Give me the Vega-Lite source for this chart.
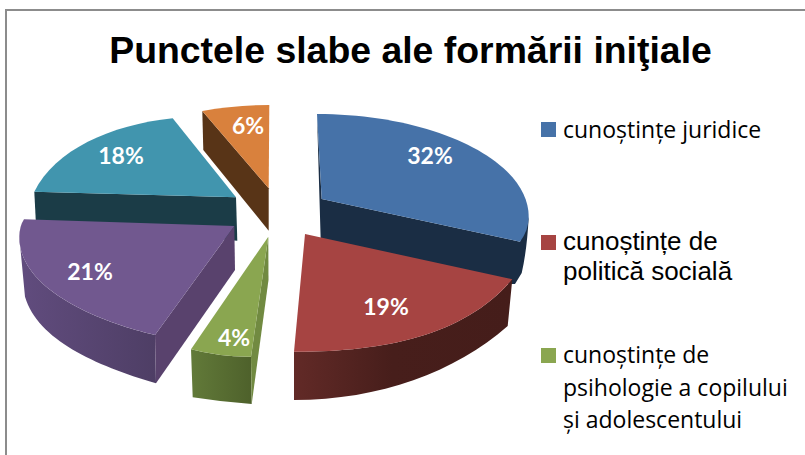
{
"$schema":"https://vega.github.io/schema/vega-lite/v6.json",
"width":805,"height":455,"padding":0,"autosize":"none",
"background":"white",
"view":{"stroke":null},
"title":{"text":"Punctele slabe ale formării iniţiale","font":"Liberation Sans","fontSize":37.4,"fontWeight":"bold","color":"#000000","anchor":"middle","frame":"group","baseline":"alphabetic","offset":0,"dy":100,"dx":8},
"datasets":{
"felii":[
{"categorie":"cunoștințe juridice","pondere":0.32},
{"categorie":"cunoștințe de politică socială","pondere":0.19},
{"categorie":"cunoștințe de psihologie a copilului și adolescentului","pondere":0.04},
{"categorie":"categoria violet (nevizibilă în legendă)","pondere":0.21},
{"categorie":"categoria turcoaz (nevizibilă în legendă)","pondere":0.18},
{"categorie":"categoria portocalie (nevizibilă în legendă)","pondere":0.06}
],
"legenda":[
{"linie":"cunoștințe juridice","rand":1},
{"linie":"cunoștințe de","rand":2},
{"linie":"politică socială","rand":3},
{"linie":"cunoștințe de","rand":4},
{"linie":"psihologie a copilului","rand":5},
{"linie":"și adolescentului","rand":6}
]
},
"data":{"name":"felii"},
"resolve":{"scale":{"x":"independent","y":"independent","shape":"independent","fill":"independent","color":"independent"}},
"layer":[
{"mark":{"type":"rule","color":"#8c8c8c","strokeWidth":2},"encoding":{"x":{"value":6},"y":{"value":9},"y2":{"value":455}}},
{"mark":{"type":"rule","color":"#8c8c8c","strokeWidth":2},"encoding":{"y":{"value":10},"x":{"value":5},"x2":{"value":805}}},
{"transform":[{"filter":"datum.pondere==0.32||datum.pondere==0.18||datum.pondere==0.06"}],
"mark":{"type":"point","filled":true,"size":4,"opacity":1,"strokeWidth":0},
"encoding":{
"x":{"field":"pondere","type":"quantitative","axis":null,"scale":{"domain":[0,1],"range":[0,0]}},
"y":{"field":"pondere","type":"quantitative","axis":null,"scale":{"domain":[0,1],"range":[0,0]}},
"shape":{"field":"categorie","type":"nominal","legend":null,"scale":{"domain":["cunoștințe juridice","categoria turcoaz (nevizibilă în legendă)","categoria portocalie (nevizibilă în legendă)"],"range":[
"M317,114L320.7,240L505,284L515,284L521.7,273Q527,250 528.7,217L520,241.7L321.7,199Z",
"M34.3,191.7L36,225L237.3,240.7L236,197.3Z",
"M202.3,111L203.3,150L268.7,230.7L268.7,188.3Z"
]}},
"fill":{"field":"categorie","type":"nominal","legend":null,"scale":{"domain":["cunoștințe juridice","categoria turcoaz (nevizibilă în legendă)","categoria portocalie (nevizibilă în legendă)"],"range":["#1a2d44","#1b3c47","#583417"]}}
}},
{"transform":[{"filter":"datum.pondere==0.19"}],
"mark":{"type":"point","filled":true,"size":4,"opacity":1,"strokeWidth":0,"shape":"M512.3,279.3L507.7,326C455,372 380,400 294,400L294,351.7C385,352 465,335 512.3,279.3Z","fill":{"gradient":"linear","x1":0,"y1":0,"x2":1,"y2":0,"stops":[{"offset":0,"color":"#622a27"},{"offset":0.45,"color":"#471e1b"},{"offset":1,"color":"#451d1a"}]}},
"encoding":{
"x":{"field":"pondere","type":"quantitative","axis":null,"scale":{"domain":[0,1],"range":[0,0]}},
"y":{"field":"pondere","type":"quantitative","axis":null,"scale":{"domain":[0,1],"range":[0,0]}}
}},
{"transform":[{"filter":"datum.pondere==0.04"}],
"mark":{"type":"point","filled":true,"size":4,"opacity":1,"strokeWidth":0,"shape":"M191,349.3L192.7,397.3Q222,402 251.7,404L251,356.7Q220,357 191,349.3Z","fill":{"gradient":"linear","x1":0,"y1":0,"x2":1,"y2":0,"stops":[{"offset":0,"color":"#627a39"},{"offset":1,"color":"#4e612b"}]}},
"encoding":{
"x":{"field":"pondere","type":"quantitative","axis":null,"scale":{"domain":[0,1],"range":[0,0]}},
"y":{"field":"pondere","type":"quantitative","axis":null,"scale":{"domain":[0,1],"range":[0,0]}}
}},
{"transform":[{"filter":"datum.pondere==0.21"}],
"mark":{"type":"point","filled":true,"size":4,"opacity":1,"strokeWidth":0,"shape":"M19.3,236.7L25,296.7C38,340 95,365 156,383.3L155,335C100,322 19,290 19.3,236.7Z","fill":{"gradient":"linear","x1":0,"y1":0,"x2":1,"y2":0,"stops":[{"offset":0,"color":"#614c7e"},{"offset":1,"color":"#4e3e65"}]}},
"encoding":{
"x":{"field":"pondere","type":"quantitative","axis":null,"scale":{"domain":[0,1],"range":[0,0]}},
"y":{"field":"pondere","type":"quantitative","axis":null,"scale":{"domain":[0,1],"range":[0,0]}}
}},
{"transform":[{"filter":"datum.pondere==0.04||datum.pondere==0.21"}],
"mark":{"type":"point","filled":true,"size":4,"opacity":1,"strokeWidth":0},
"encoding":{
"x":{"field":"pondere","type":"quantitative","axis":null,"scale":{"domain":[0,1],"range":[0,0]}},
"y":{"field":"pondere","type":"quantitative","axis":null,"scale":{"domain":[0,1],"range":[0,0]}},
"shape":{"field":"categorie","type":"nominal","legend":null,"scale":{"domain":["cunoștințe de psihologie a copilului și adolescentului","categoria violet (nevizibilă în legendă)"],"range":[
"M268.3,237L268.5,280L251.7,404L251,356.7Z",
"M234.3,226L235,270L156,383.3L155,335Z"
]}},
"fill":{"field":"categorie","type":"nominal","legend":null,"scale":{"domain":["cunoștințe de psihologie a copilului și adolescentului","categoria violet (nevizibilă în legendă)"],"range":["#718a41","#59426d"]}}
}},
{"mark":{"type":"point","filled":true,"size":4,"opacity":1,"strokeWidth":0},
"encoding":{
"x":{"field":"pondere","type":"quantitative","axis":null,"scale":{"domain":[0,1],"range":[0,0]}},
"y":{"field":"pondere","type":"quantitative","axis":null,"scale":{"domain":[0,1],"range":[0,0]}},
"shape":{"field":"categorie","type":"nominal","legend":null,"scale":{"domain":["cunoștințe juridice","cunoștințe de politică socială","cunoștințe de psihologie a copilului și adolescentului","categoria violet (nevizibilă în legendă)","categoria turcoaz (nevizibilă în legendă)","categoria portocalie (nevizibilă în legendă)"],"range":[
"M317,114C433.4,114 528.7,160.2 528.7,216.7Q528.7,230 520,241.7L321.7,199Z",
"M305,234L512.3,279.3C465,335 385,352 294,351.7Z",
"M268.3,236.7L191,349.3Q220,357 251,356.7Z",
"M24,219.3L234.3,226L155,335C100,322 19,290 19.3,236.7Q19.5,226 24,219.3Z",
"M172.7,118.3L236,197.3L34.3,191.7C55,150 110,125 172.7,118.3Z",
"M202.3,111Q235,105 269.3,105L268.7,188.3Z"
]}},
"fill":{"field":"categorie","type":"nominal","legend":null,"scale":{"domain":["cunoștințe juridice","cunoștințe de politică socială","cunoștințe de psihologie a copilului și adolescentului","categoria violet (nevizibilă în legendă)","categoria turcoaz (nevizibilă în legendă)","categoria portocalie (nevizibilă în legendă)"],"range":["#4672a8","#a64442","#8aa650","#71588f","#4195ae","#d9813d"]}}
}},
{"mark":{"type":"text","font":"Lato","fontWeight":"bold","fontSize":23,"color":"#ffffff","align":"center","baseline":"middle"},
"encoding":{
"x":{"field":"pondere","type":"quantitative","axis":null,"scale":{"domain":[0.04,0.06,0.18,0.19,0.21,0.32],"range":[234,248,121,386,90,430]}},
"y":{"field":"pondere","type":"quantitative","axis":null,"scale":{"domain":[0.04,0.06,0.18,0.19,0.21,0.32],"range":[339,127,157,308,273,157]}},
"text":{"field":"pondere","type":"quantitative","format":".0%"}
}},
{"transform":[{"filter":"datum.pondere==0.04||datum.pondere==0.19||datum.pondere==0.32"}],
"mark":{"type":"point","filled":true,"shape":"square","size":225,"opacity":1,"strokeWidth":0},
"encoding":{
"x":{"field":"pondere","type":"quantitative","axis":null,"scale":{"domain":[0,1],"range":[548.5,548.5]}},
"y":{"field":"pondere","type":"quantitative","axis":null,"scale":{"domain":[0.04,0.19,0.32],"range":[355.5,242.5,129.5]}},
"fill":{"field":"categorie","type":"nominal","legend":null,"scale":{"domain":["cunoștințe juridice","cunoștințe de politică socială","cunoștințe de psihologie a copilului și adolescentului"],"range":["#4672a8","#a64442","#8aa650"]}}
}},
{"data":{"name":"legenda"},"transform":[{"filter":"datum.rand==1||datum.rand>=4"}],
"mark":{"type":"text","font":"Open Sans","fontSize":23,"color":"#000000","align":"left","baseline":"alphabetic"},
"encoding":{
"x":{"field":"rand","type":"quantitative","axis":null,"scale":{"domain":[1,6],"range":[563,563]}},
"y":{"field":"rand","type":"quantitative","axis":null,"scale":{"domain":[1,4,5,6],"range":[138,363,396,428]}},
"text":{"field":"linie"}
}},
{"data":{"name":"legenda"},"transform":[{"filter":"datum.rand==2||datum.rand==3"}],
"mark":{"type":"text","font":"Liberation Sans","fontSize":26,"color":"#000000","align":"left","baseline":"alphabetic"},
"encoding":{
"x":{"field":"rand","type":"quantitative","axis":null,"scale":{"domain":[2,3],"range":[563,563]}},
"y":{"field":"rand","type":"quantitative","axis":null,"scale":{"domain":[2,3],"range":[250,280]}},
"text":{"field":"linie"}
}}
]
}
